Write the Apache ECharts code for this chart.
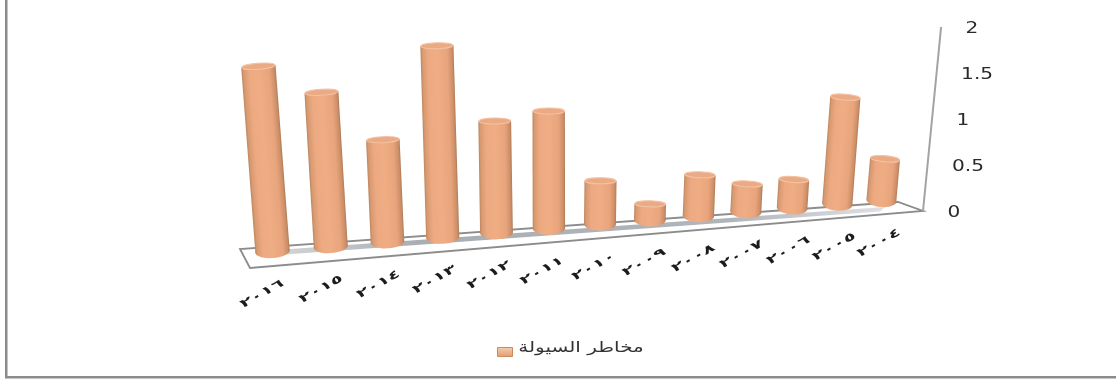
<!DOCTYPE html>
<html lang="ar">
<head>
<meta charset="utf-8">
<title>مخاطر السيولة</title>
<style>html,body{margin:0;padding:0;background:#fff}#chart{width:1116px;height:380px}</style>
<script src="https://cdn.jsdelivr.net/npm/echarts@6/dist/echarts.min.js"></script>
</head>
<body>
<div id="chart"></div>
<script>
const seriesName = 'مخاطر السيولة';
const categories = ['٢٠١٦','٢٠١٥','٢٠١٤','٢٠١٣','٢٠١٢','٢٠١١','٢٠١٠','٢٠٠٩','٢٠٠٨','٢٠٠٧','٢٠٠٦','٢٠٠٥','٢٠٠٤'];
const riskValues = [1.82,1.55,1.07,1.95,1.19,1.26,0.53,0.26,0.52,0.39,0.40,1.24,0.55];
const valueTicks = [0,0.5,1,1.5,2];

// Plain cartesian frame; every mark passes through project() to get the 3D look.
const GRID = {left:273, width:608, top:28, height:184};
const VANISH = {x:555, y:3950};

function floorX(px){
  const t = (px - GRID.left) / GRID.width;
  return (273 + 752*t) / (1 + 0.1637*t);
}
function scaleAt(x){ return (107 - (x-273)*14/608) / 92; }

// Point on a vertical line rising from (bx,by), leaning away from the vanishing point.
function rise(bx, by, h){
  return {x: bx - (VANISH.x-bx)*h/(VANISH.y-by), y: by - h};
}
function project(px, py, py0){
  const x = floorX(px);
  const y = 258 - (x-273)*51/608;
  const h = (py0-py)*scaleAt(x);
  const top = rise(x, y, h);
  return {bx:x, by:y, tx:top.x, ty:top.y, scale:scaleAt(x)};
}

const BODY_STOPS = [
  {offset:0, color:'#bd8560'},{offset:0.06, color:'#d89a70'},{offset:0.22, color:'#eda981'},
  {offset:0.5, color:'#f0ad84'},{offset:0.8, color:'#e8a47c'},{offset:0.95, color:'#cb8e67'},{offset:1, color:'#ad7955'}
];
const bodyFill = {type:'linear',x:0,y:0,x2:1,y2:0,colorStops:BODY_STOPS};

function renderCylinder(params, api){
  const i = api.value(0), v = api.value(1);
  const p0 = api.coord([i,0]), p1 = api.coord([i,v]);
  const g = project(p0[0], p1[1], p0[1]);
  const rx = 14.8*g.scale, ryB = 6.5, ryT = 3;
  const len = Math.hypot(g.tx-g.bx, g.ty-g.by);
  const rotation = Math.atan2(g.tx-g.bx, g.by-g.ty) * -1;
  const yTop = -len+ryT, yBot = -ryB;
  return {
    type:'group', x:g.bx, y:g.by, rotation:rotation,
    children:[
      {type:'ellipse', shape:{cx:0,cy:yBot,rx:rx,ry:ryB}, style:{fill:bodyFill}},
      {type:'polygon', shape:{points:[[-rx,yTop],[rx,yTop],[rx,yBot],[-rx,yBot]]}, style:{fill:bodyFill}},
      {type:'ellipse', shape:{cx:0,cy:yTop,rx:rx-0.5,ry:ryT},
        style:{fill:'#eaaa84', stroke:'#f4c2a3', lineWidth:1}}
    ]
  };
}

function renderFloor(params, api){
  if (params.dataIndex !== 0) return null;
  const LB=[240,249], LF=[250,268], RF=[923,211], RB=[898,202];
  const axisTop = rise(RF[0], RF[1], 184);
  return {type:'group', children:[
    {type:'polygon', shape:{points:[LB,LF,RF,RB]}, style:{fill:'#ffffff', stroke:'#8c8c8c', lineWidth:1.8}},
    {type:'polygon', shape:{points:[[262,251],[885,207],[880,211.5],[264,256]]},
      style:{fill:{type:'linear',x:0,y:0,x2:1,y2:0,colorStops:[
        {offset:0,color:'#d8dadc'},{offset:0.25,color:'#a9aeb4'},{offset:0.75,color:'#b0b5bb'},{offset:1,color:'#dfe1e4'}]}}},
    {type:'line', shape:{x1:RF[0],y1:RF[1],x2:axisTop.x,y2:axisTop.y}, style:{stroke:'#a3a3a3', lineWidth:2}}
  ]};
}

function renderCategoryLabel(params, api){
  const i = api.value(0);
  const x = floorX(api.coord([i,0])[0]);
  const y = 258 - (x-273)*51/608;
  const t = (x-273)/608;
  return {type:'text', x:x-11+9*t, y:y+36, rotation:Math.PI*29/180, scaleX:1.7, scaleY:1,
    style:{text:categories[i], fill:'#1c1c1c', font:'bold 11.5px "DejaVu Sans"', align:'center', verticalAlign:'middle'}};
}

function renderValueLabel(params, api){
  const v = api.value(0);
  const h = GRID.top + GRID.height - api.coord([0,v])[1];
  const p = rise(923, 211, h);
  return {type:'text', x:p.x+24.5, y:p.y+2.2, scaleX:1.22,
    style:{text:String(v), fill:'#2a2a2a', font:'16.5px "DejaVu Sans"', align:'left', verticalAlign:'middle'}};
}

const chart = echarts.init(document.getElementById('chart'), null, {renderer:'canvas'});
chart.setOption({
  backgroundColor:'#ffffff',
  animation:false,
  grid:{left:GRID.left, width:GRID.width, top:GRID.top, height:GRID.height},
  xAxis:{type:'category', data:categories, boundaryGap:false, show:false},
  yAxis:{type:'value', min:0, max:2, interval:0.5, show:false},
  legend:{
    data:[seriesName], left:492, top:342, itemWidth:15, itemHeight:9, itemGap:0,
    icon:'rect',
    itemStyle:{
      color:{type:'linear',x:0,y:0,x2:0,y2:1,colorStops:[{offset:0,color:'#f4cfae'},{offset:1,color:'#e39a6e'}]},
      borderColor:'#c98a62', borderWidth:1
    },
    formatter:function(){ return ''; }
  },
  graphic:[
    {type:'rect', shape:{x:5,y:0,width:2.5,height:378}, style:{fill:'#8c8c8c'}, silent:true},
    {type:'rect', shape:{x:5,y:376,width:1111,height:2.5}, style:{fill:'#8c8c8c'}, silent:true},
    // The legend caption is stretched horizontally, which the legend's own text cannot do.
    {type:'text', x:581, y:348, scaleX:1.33, silent:true,
      style:{text:seriesName, fill:'#333333', font:'15px "DejaVu Sans"', align:'center', verticalAlign:'middle'}}
  ],
  series:[
    {type:'custom', name:'floor', silent:true, z:1, renderItem:renderFloor, data:[[0]], encode:{x:0}},
    {type:'custom', name:seriesName, z:3, renderItem:renderCylinder, itemStyle:{color:'#e9a67c'},
      data:riskValues.map((v,i)=>[i,v]), encode:{x:0,y:1}},
    {type:'custom', name:'categoryLabels', silent:true, z:4, renderItem:renderCategoryLabel,
      data:categories.map((c,i)=>[i]), encode:{x:0}},
    {type:'custom', name:'valueLabels', silent:true, z:4, renderItem:renderValueLabel,
      data:valueTicks.map(v=>[v]), encode:{y:0}}
  ]
});
</script>
</body>
</html>
